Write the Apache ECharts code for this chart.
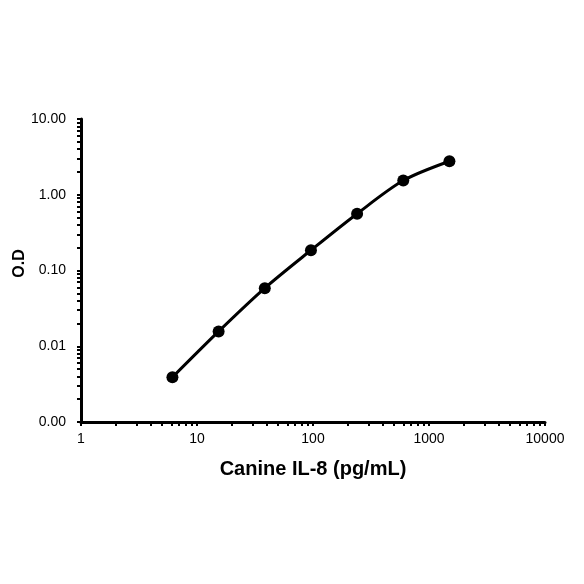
<!DOCTYPE html>
<html><head><meta charset="utf-8">
<script src="https://cdn.jsdelivr.net/npm/echarts@6/dist/echarts.min.js"></script>
<style>html,body{margin:0;padding:0;background:#fff}#c{width:584px;height:584px}</style>
</head><body><div id="c"></div>
<script>
var concentrations = [6.14, 15.36, 38.4, 96, 240, 600, 1500];
var odValues = [0.0039, 0.0157, 0.0585, 0.185, 0.562, 1.54, 2.77];
var xTickLabels = [1, 10, 100, 1000, 10000];
var yTickLabels = [0.001, 0.01, 0.1, 1, 10];

function logTicks(lo, hi) {
  var out = [];
  for (var d = lo; d < hi * 0.999; d *= 10) {
    for (var k = 1; k < 10; k++) out.push(+(d * k).toPrecision(6));
  }
  out.push(hi);
  return out;
}

var chart = echarts.init(document.getElementById('c'));
chart.setOption({
  backgroundColor: '#fff',
  animation: false,
  grid: {left: 81, right: 39, top: 119, bottom: 162, containLabel: false, outerBoundsMode: 'none'},
  xAxis: {
    type: 'log', logBase: 10, min: 1, max: 10000,
    name: 'Canine IL-8 (pg/mL)', nameLocation: 'middle', nameGap: 37, nameMoveOverlap: false,
    nameTextStyle: {fontFamily: 'Liberation Sans', fontWeight: 'bold', fontSize: 20, color: '#000'},
    axisLine: {lineStyle: {color: '#000', width: 3}},
    axisTick: {show: true, inside: false, length: 4, lineStyle: {color: '#000', width: 2}, customValues: logTicks(1, 10000)},
    axisLabel: {customValues: xTickLabels, fontFamily: 'Liberation Sans', fontSize: 14, color: '#000', margin: 10,
      formatter: function (v) { return String(Math.round(v)); }},
    splitLine: {show: false}
  },
  yAxis: {
    type: 'log', logBase: 10, min: 0.001, max: 10,
    name: 'O.D', nameLocation: 'middle', nameGap: 53, nameRotate: 90, nameMoveOverlap: false,
    nameTextStyle: {fontFamily: 'Liberation Sans', fontWeight: 'bold', fontSize: 16, color: '#000', padding: [0, 0, 0, 14]},
    axisLine: {show: true, lineStyle: {color: '#000', width: 3}},
    axisTick: {show: true, inside: false, length: 4, lineStyle: {color: '#000', width: 2}, customValues: logTicks(0.001, 10)},
    axisLabel: {customValues: yTickLabels, fontFamily: 'Liberation Sans', fontSize: 14, color: '#000', margin: 15,
      formatter: function (v) { return v.toFixed(2); }},
    splitLine: {show: false}
  },
  series: [{
    type: 'line',
    data: concentrations.map(function (c, i) { return [c, odValues[i]]; }),
    smooth: 0.3,
    symbol: 'circle', symbolSize: 12,
    itemStyle: {color: '#000'},
    lineStyle: {color: '#000', width: 3}
  }]
});
</script>
</body></html>
